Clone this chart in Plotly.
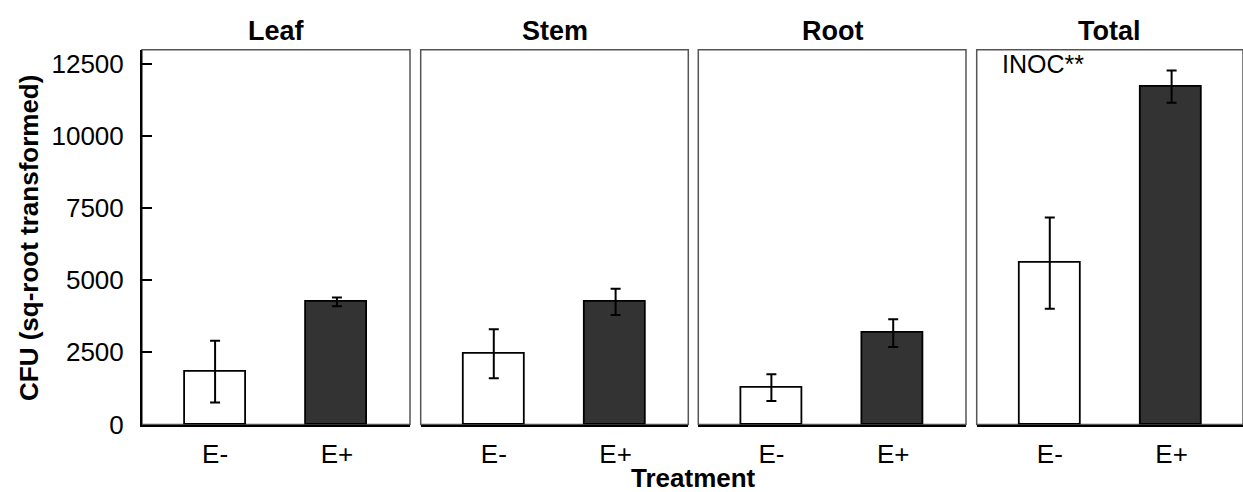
import plotly.graph_objects as go
from plotly.subplots import make_subplots

# Tissue compartments and endophyte treatments
tissues = ["Leaf", "Stem", "Root", "Total"]
treatments = ["E-", "E+"]

# Mean CFU (square-root transformed) and standard errors per treatment
e_minus_mean = [1830, 2450, 1280, 5590]
e_minus_se = [1070, 850, 465, 1580]
e_plus_mean = [4250, 4250, 3170, 11700]
e_plus_se = [150, 455, 480, 560]

y_ticks = [0, 2500, 5000, 7500, 10000, 12500]
y_tick_text = ["0", "2500", "5000", "7500", "10000", "12500"]

FONT = "Liberation Sans, Arial, sans-serif"
W, H = 1243, 506
VS = H / 492.0  # vertical layout scale

# Panel geometry in pixels (left, right), shared top/bottom
panel_px = [(142, 410), (420.7, 688.3), (698.3, 966), (976.7, 1243)]
top_px, bottom_px = 49 * VS, 425.3 * VS
px_per_unit = 268 / 2.2

fig = make_subplots(rows=1, cols=4, shared_yaxes=True, horizontal_spacing=0.01)

for i, tissue in enumerate(tissues):
    col = i + 1
    fig.add_trace(
        go.Bar(
            x=treatments,
            y=[e_minus_mean[i], e_plus_mean[i]],
            width=0.5,
            marker=dict(color=["white", "#333333"],
                        line=dict(color="black", width=1.8)),
            error_y=dict(type="data", array=[e_minus_se[i], e_plus_se[i]],
                         color="black", thickness=2, width=5),
            showlegend=False,
            hoverinfo="skip",
        ),
        row=1, col=col,
    )

layout_axes = {}
for i, (l, r) in enumerate(panel_px):
    suffix = "" if i == 0 else str(i + 1)
    x_range = [-0.6, -0.6 + (r - l) / px_per_unit]
    layout_axes["xaxis" + suffix] = dict(
        domain=[l / W, r / W],
        type="category",
        range=x_range,
        showline=True, linecolor="black", linewidth=2,
        ticks="", showgrid=False, zeroline=False,
        tickfont=dict(family=FONT, size=26, color="black"),
        ticklabelstandoff=5,
    )
    layout_axes["yaxis" + suffix] = dict(
        domain=[1 - bottom_px / H, 1 - top_px / H],
        range=[0, 12976],
        showgrid=False, zeroline=False,
        showline=(i == 0), linecolor="black", linewidth=2,
        ticks="inside" if i == 0 else "", ticklen=10, tickwidth=1.5,
        tickcolor="black",
        tickmode="array", tickvals=y_ticks, ticktext=y_tick_text,
        showticklabels=(i == 0),
        tickfont=dict(family=FONT, size=26, color="black"),
        ticklabelstandoff=11,
    )
fig.update_layout(**layout_axes)

# Panel frames
for i in range(4):
    suffix = "" if i == 0 else str(i + 1)
    fig.add_shape(type="rect", xref=f"x{suffix} domain", yref=f"y{suffix} domain",
                  x0=0, x1=1, y0=0, y1=1, layer="below",
                  line=dict(color="#555555", width=1.5))

annotations = []
for i, (l, r) in enumerate(panel_px):
    annotations.append(dict(
        text=f"<b>{tissues[i]}</b>", x=(l + r) / 2 / W, y=1 - 30 * VS / H,
        xref="paper", yref="paper", xanchor="center", yanchor="middle",
        showarrow=False, font=dict(family=FONT, size=27, color="black")))

annotations.append(dict(
    text="INOC**", x=1000 / W, y=1 - 63 * VS / H, xref="paper", yref="paper",
    xanchor="left", yanchor="middle", showarrow=False,
    font=dict(family=FONT, size=25, color="black")))

annotations.append(dict(
    text="<b>CFU (sq-root transformed)</b>", x=29 / W, y=1 - 238 * VS / H,
    xref="paper", yref="paper", xanchor="center", yanchor="middle",
    textangle=-90, showarrow=False,
    font=dict(family=FONT, size=26, color="black")))

annotations.append(dict(
    text="<b>Treatment</b>", x=693 / W, y=1 - 479 * VS / H,
    xref="paper", yref="paper", xanchor="center", yanchor="middle",
    showarrow=False, font=dict(family=FONT, size=26, color="black")))

fig.update_layout(
    width=W, height=H, autosize=False,
    margin=dict(l=0, r=0, t=0, b=0),
    paper_bgcolor="white", plot_bgcolor="white",
    annotations=annotations,
    bargap=0,
)

fig.write_html("out.html", config={"responsive": False})
